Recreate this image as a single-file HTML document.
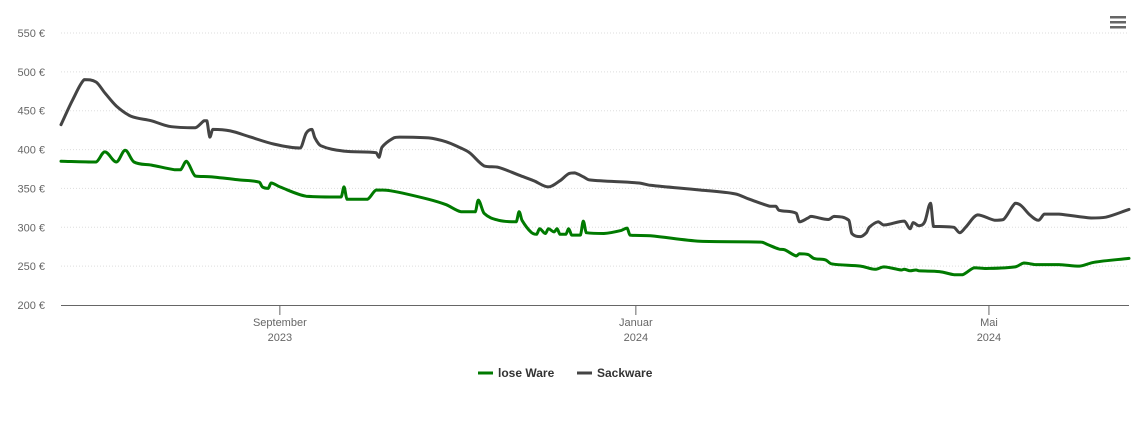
<!DOCTYPE html>
<html><head><meta charset="utf-8"><style>
html,body{margin:0;padding:0;background:#fff;}
svg{display:block;font-family:"Liberation Sans",sans-serif;}
</style></head><body>
<svg id="chart" width="1140" height="434" xmlns="http://www.w3.org/2000/svg">
<g id="grid"></g>
<g id="yaxis"></g>
<g id="xaxis"></g>
<g id="series"></g>
<g>
<rect x="1110" y="16" width="16" height="2.5" fill="#666"/><rect x="1110" y="21" width="16" height="2.5" fill="#666"/><rect x="1110" y="26" width="16" height="2.5" fill="#666"/>
</g>
<g>
<g><line x1="478" y1="373" x2="493" y2="373" stroke="#007a00" stroke-width="3"/><text x="498" y="377" font-size="12" font-weight="bold" fill="#333">lose Ware</text></g>
<g><line x1="577" y1="373" x2="592" y2="373" stroke="#444" stroke-width="3"/><text x="597" y="377" font-size="12" font-weight="bold" fill="#333">Sackware</text></g>
</g>
</svg>
<script>
const yTicks=[200,250,300,350,400,450,500,550];
const xTickDays=[75,197,318];
const xTickLabels=[["September","2023"],["Januar","2024"],["Mai","2024"]];
const loseDays=[0,12,15,19,22,25,31,39,41,43,46,51,61,68,69,71,72,75,84,96,97,98,105,108,113,126,132,137,142,143,145,150,156,157,158,161,163,164,166,167,169,170,171,173,174,175,178,179,180,186,192,194,195,202,219,240,242,246,248,252,253,256,258,262,264,274,279,282,288,289,291,293,294,301,306,309,313,317,327,330,334,342,349,354,366];
const loseVals=[385,384,397,384,399,384,380,374,374,385,366,365,361,358,352,350,357,352,340,339,352,336,336,348,347,336,329,320,320,335,318,309,307,320,309,294,291,298,292,298,294,298,291,291,298,290,290,308,293,292,296,299,290,289,282,281,278,272,271,263,266,265,260,258,253,250,246,249,245,246,244,245,244,243,239,239,248,247,249,254,252,252,250,255,260];
const sackDays=[0,4,8,12,15,19,24,31,37,46,49,50,51,52,58,65,73,82,84,86,87,89,97,108,109,110,114,116,126,132,137,140,145,150,157,162,167,171,174,176,179,181,198,202,219,231,236,243,245,246,252,253,256,257,263,265,270,271,274,276,277,280,282,289,291,292,294,296,298,299,301,306,308,310,314,320,323,327,329,332,335,337,342,353,358,366];
const sackVals=[432,464,490,487,473,456,443,437,430,428,437,437,416,426,424,416,407,402,421,426,415,405,398,396,390,403,415,416,415,410,402,396,379,377,367,360,352,360,369,370,365,361,357,354,348,343,336,327,327,322,318,307,312,314,310,314,309,292,288,293,300,307,303,308,298,306,302,307,331,301,301,300,293,300,316,309,310,331,328,316,309,317,317,312,313,323];
const X0=61,X1=1129,DMAX=366,Y0=305,Y1=33;
const xs=d=>X0+(X1-X0)*d/DMAX;
const ys=v=>Y0-(v-200)*(Y0-Y1)/350;
const NS="http://www.w3.org/2000/svg";
function mk(t,a,p){const e=document.createElementNS(NS,t);for(const k in a)e.setAttribute(k,a[k]);p.appendChild(e);return e;}
const grid=document.getElementById('grid'),ya=document.getElementById('yaxis'),xa=document.getElementById('xaxis'),se=document.getElementById('series');
yTicks.forEach(v=>{
 if(v>200){const l=mk('line',{x1:X0,x2:X1,y1:ys(v),y2:ys(v),stroke:'#ddd','stroke-dasharray':'1,2'},grid);
 
 }
 const t=mk('text',{x:45,y:ys(v)+4,'text-anchor':'end','font-size':11,fill:'#666'},ya);t.textContent=v+' €';
 
 
});
const ax=mk('line',{x1:X0,x2:X1,y1:Y0+0.5,y2:Y0+0.5,stroke:'#666'},xa);


xTickDays.forEach((d,i)=>{
 const x=xs(d);
 const tk=mk('line',{x1:x,x2:x,y1:Y0,y2:Y0+10,stroke:'#666'},xa);
 
 
 xTickLabels[i].forEach((s,j)=>{const t=mk('text',{x:x,y:326+j*15,'text-anchor':'middle','font-size':11,fill:'#666'},xa);t.textContent=s;
 
 });
});
function draw(days,vals,color,name){
 const P=days.map((dd,i)=>[xs(dd),ys(vals[i])]);
 let d='M'+P[0][0].toFixed(1)+','+P[0][1].toFixed(1);
 const k=0.3;
 for(let i=0;i<P.length-1;i++){
  const p0=P[Math.max(0,i-1)],p1=P[i],p2=P[i+1],p3=P[Math.min(P.length-1,i+2)];
  const dx=p2[0]-p1[0];
  let m1=(p2[1]-p0[1])/((p2[0]-p0[0])||1),m2=(p3[1]-p1[1])/((p3[0]-p1[0])||1);
  const s=(p2[1]-p1[1])/dx;
  if(s===0||m1*s<=0)m1=0; if(s===0||m2*s<=0)m2=0;
  m1=Math.max(-3*Math.abs(s),Math.min(3*Math.abs(s),m1));
  m2=Math.max(-3*Math.abs(s),Math.min(3*Math.abs(s),m2));
  const c1x=p1[0]+dx/3,c1y=p1[1]+m1*dx/3,c2x=p2[0]-dx/3,c2y=p2[1]-m2*dx/3;
  d+=` C${c1x.toFixed(1)},${c1y.toFixed(1)} ${c2x.toFixed(1)},${c2y.toFixed(1)} ${p2[0].toFixed(1)},${p2[1].toFixed(1)}`;
 }
 const p=mk('path',{d:d,fill:'none',stroke:color,'stroke-width':3,'stroke-linejoin':'round','stroke-linecap':'round'},se);
 
 
}
draw(sackDays,sackVals,'#444','sackware-line');
draw(loseDays,loseVals,'#007a00','lose-ware-line');
</script>
</body></html>
